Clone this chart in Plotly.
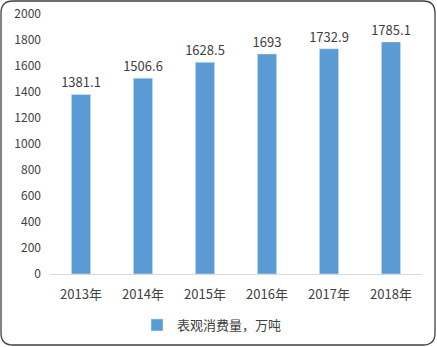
import plotly.graph_objects as go

years = ["2013年", "2014年", "2015年", "2016年", "2017年", "2018年"]
values = [1381.1, 1506.6, 1628.5, 1693, 1732.9, 1785.1]
labels = ["1381.1", "1506.6", "1628.5", "1693", "1732.9", "1785.1"]
series_name = "表观消费量，万吨"
y_ticks = [0, 200, 400, 600, 800, 1000, 1200, 1400, 1600, 1800, 2000]

W, H = 437, 347
ML, MR, MT, MB = 50, 15, 14, 73
PW, PH = W - ML - MR, H - MT - MB

def px(x):
    return (x - ML) / PW

def py(y):
    return (H - MB - y) / PH

fig = go.Figure()
fig.add_trace(go.Bar(
    x=years, y=values, name=series_name,
    marker_color="#5B9BD5", width=0.31,
    text=labels, textposition="outside", constraintext="none",
    textfont=dict(size=13, color="#404040"),
    cliponaxis=False,
))

# rounded border
x0, x1, y0, y1 = 1, 435, 1, 345
r = 12
path = (
    f"M {px(x0+r)} {py(y0)} L {px(x1-r)} {py(y0)} "
    f"Q {px(x1)} {py(y0)} {px(x1)} {py(y0+r)} "
    f"L {px(x1)} {py(y1-r)} Q {px(x1)} {py(y1)} {px(x1-r)} {py(y1)} "
    f"L {px(x0+r)} {py(y1)} Q {px(x0)} {py(y1)} {px(x0)} {py(y1-r)} "
    f"L {px(x0)} {py(y0+r)} Q {px(x0)} {py(y0)} {px(x0+r)} {py(y0)} Z"
)
fig.add_shape(type="path", path=path, xref="paper", yref="paper",
              line=dict(color="#404040", width=1.3))

fig.update_layout(
    width=W, height=H,
    margin=dict(l=ML, r=MR, t=MT, b=MB, autoexpand=False),
    paper_bgcolor="white", plot_bgcolor="white",
    font=dict(family="Noto Sans CJK SC, Liberation Sans, sans-serif", size=12, color="#404040"),
    showlegend=True,
    legend=dict(orientation="h", x=px(212), xanchor="center", y=py(325), yanchor="middle",
                font=dict(size=13, color="#404040"), itemwidth=30),
    xaxis=dict(showgrid=False, showline=True, linecolor="#D9D9D9", linewidth=1,
               ticks="", tickfont=dict(size=13, color="#404040"), automargin=False,
               ticklabelstandoff=8),
    yaxis=dict(range=[0, 2000], tickvals=y_ticks, showgrid=False, zeroline=False,
               showline=False, ticks="", tickfont=dict(size=12, color="#404040"),
               ticklabelstandoff=8, automargin=False),
    bargap=0.69,
)

fig.write_html("out.html")
